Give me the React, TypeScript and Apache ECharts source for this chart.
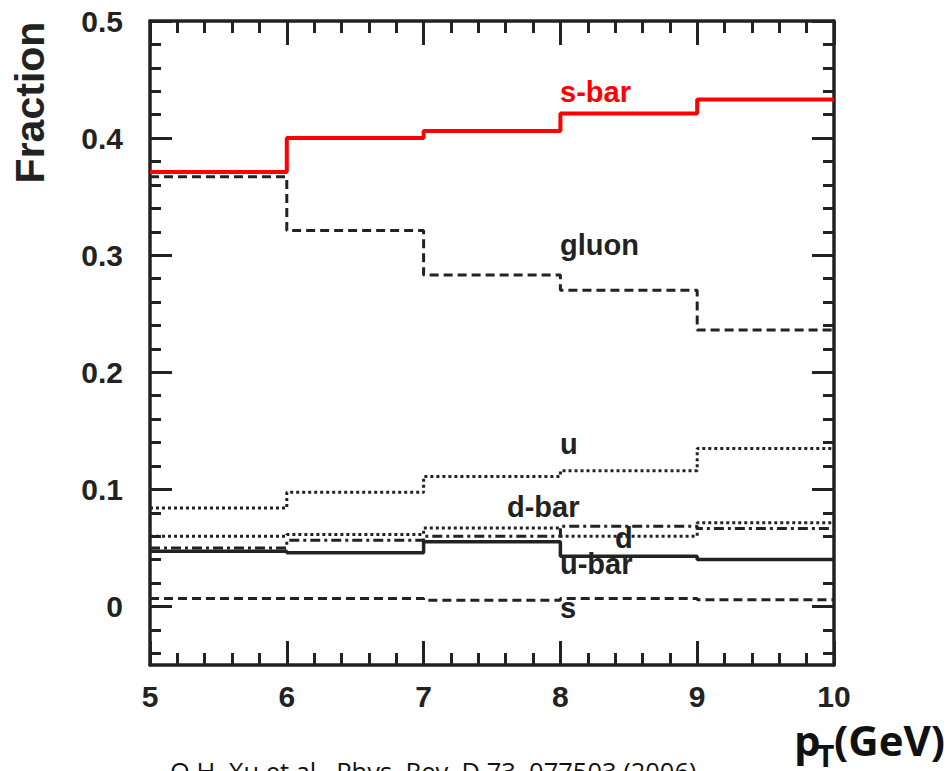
import React, { useEffect, useRef } from "react";
import * as echarts from "echarts";

// ---- data ----
const binEdges = [5, 6, 7, 8, 9, 10];
const sbar = [0.371, 0.4, 0.406, 0.421, 0.433];
const gluon = [0.367, 0.321, 0.283, 0.27, 0.236];
const uQuark = [0.084, 0.0975, 0.111, 0.116, 0.135];
const dbar = [0.05, 0.0566, 0.06, 0.0686, 0.0666];
const dQuark = [0.06, 0.0614, 0.067, 0.06, 0.0714];
const ubar = [0.0472, 0.0458, 0.0552, 0.0429, 0.0401];
const sQuark = [0.0068, 0.0068, 0.0054, 0.0068, 0.0057];

const yMajorTicks = [0, 0.1, 0.2, 0.3, 0.4, 0.5];
const yMinorTicks = [-0.04, -0.02, 0.02, 0.04, 0.06, 0.08, 0.12, 0.14, 0.16, 0.18, 0.22, 0.24, 0.26, 0.28, 0.32, 0.34, 0.36, 0.38, 0.42, 0.44, 0.46, 0.48];

const INK = "#222";

function stepData(vals: number[]) {
  return binEdges.map((x, i) => [x, vals[Math.min(i, vals.length - 1)]]);
}

export default function App() {
  const ref = useRef<HTMLDivElement>(null);
  useEffect(() => {
    if (!ref.current) return;
    const chart = echarts.init(ref.current, null, { renderer: "svg" });
    const yBase = {
      type: "value" as const,
      min: -0.05,
      max: 0.5,
      offset: 0,
      splitLine: { show: false },
    };
    const xBase = {
      type: "value" as const,
      min: 5,
      max: 10,
      interval: 1,
      splitLine: { show: false },
      axisLine: { show: true, onZero: false, lineStyle: { color: INK, width: 3.5 } },
      axisTick: { show: true, inside: true, length: 24, lineStyle: { color: INK, width: 3 } },
      minorTick: { show: true, splitNumber: 5, length: 12, lineStyle: { color: INK, width: 3 } },
    };
    const mk = (name: string, vals: number[], color: string, type: any, width: number) => ({
      name,
      type: "line" as const,
      step: "end" as const,
      data: stepData(vals),
      showSymbol: false,
      symbol: "none",
      lineStyle: { color, width, type },
      xAxisIndex: 0,
      yAxisIndex: 0,
    });
    const labelText = (text: string, x: number, y: number, color = INK) => ({
      type: "text" as const,
      x,
      y,
      style: {
        text,
        fill: color,
        font: "bold 29px 'Liberation Sans', Arial, sans-serif",
        textAlign: "left",
        textVerticalAlign: "middle",
      },
    });
    chart.setOption({
      animation: false,
      backgroundColor: "#fff",
      grid: { left: 150, right: 115, top: 21, bottom: 106, containLabel: false },
      xAxis: [
        {
          ...xBase,
          position: "bottom",
          axisLabel: {
            show: true,
            color: INK,
            fontSize: 30,
            fontWeight: "bold",
            fontFamily: "'Liberation Sans', Arial, sans-serif",
            margin: 16,
          },
        },
        { ...xBase, position: "top", axisLabel: { show: false } },
      ],
      yAxis: [
        {
          ...yBase,
          position: "left",
          axisLine: { show: true, onZero: false, lineStyle: { color: INK, width: 3.5 } },
          axisTick: { show: true, inside: true, length: 22, customValues: yMajorTicks, lineStyle: { color: INK, width: 3 } },
          axisLabel: {
            show: true,
            customValues: yMajorTicks,
            formatter: (v: number) => String(+v.toFixed(1)),
            color: INK,
            fontSize: 30,
            fontWeight: "bold",
            fontFamily: "'Liberation Sans', Arial, sans-serif",
            margin: 27,
          },
        },
        {
          ...yBase,
          position: "left",
          axisLine: { show: false },
          axisTick: { show: true, inside: true, length: 11, customValues: yMinorTicks, lineStyle: { color: INK, width: 3 } },
          axisLabel: { show: false },
        },
        {
          ...yBase,
          position: "right",
          axisLine: { show: true, onZero: false, lineStyle: { color: INK, width: 3.5 } },
          axisTick: { show: true, inside: true, length: 22, customValues: yMajorTicks, lineStyle: { color: INK, width: 3 } },
          axisLabel: { show: false },
        },
        {
          ...yBase,
          position: "right",
          axisLine: { show: false },
          axisTick: { show: true, inside: true, length: 11, customValues: yMinorTicks, lineStyle: { color: INK, width: 3 } },
          axisLabel: { show: false },
        },
      ],
      series: [
        mk("s-bar", sbar, "#ff0000", "solid", 4),
        mk("gluon", gluon, INK, [9, 5], 3),
        mk("u", uQuark, INK, [3, 3], 3),
        mk("d-bar", dbar, INK, [10, 4, 3, 4], 3),
        mk("d", dQuark, INK, [3, 3], 3),
        mk("u-bar", ubar, INK, "solid", 3.5),
        mk("s", sQuark, INK, [9, 5], 3),
      ],
      graphic: [
        labelText("s-bar", 560, 92, "#ff0000"),
        labelText("gluon", 560, 245),
        labelText("u", 560, 444),
        labelText("d-bar", 507, 507),
        labelText("d", 615, 538),
        labelText("u-bar", 560, 564),
        labelText("s", 560, 608),
        {
          type: "text",
          x: 30,
          y: 102.5,
          rotation: Math.PI / 2,
          style: {
            text: "Fraction",
            fill: INK,
            font: "bold 41px 'Liberation Sans', Arial, sans-serif",
            textAlign: "center",
            textVerticalAlign: "middle",
          },
        },
        {
          type: "text",
          x: 794,
          y: 739,
          style: { text: "p", fill: "#111", font: "bold 42px 'Open Sans', sans-serif", textAlign: "left", textVerticalAlign: "middle" },
        },
        {
          type: "text",
          x: 817,
          y: 755,
          style: { text: "T", fill: "#111", font: "bold 30px 'Open Sans', sans-serif", textAlign: "left", textVerticalAlign: "middle" },
        },
        {
          type: "text",
          x: 834,
          y: 739,
          style: { text: "(GeV)", fill: "#111", font: "bold 42px 'Open Sans', sans-serif", textAlign: "left", textVerticalAlign: "middle" },
        },
        {
          type: "text",
          x: 170,
          y: 771,
          style: { text: "Q.H. Xu et al., Phys. Rev. D 73, 077503 (2006)", fill: "#111", font: "25.5px 'Open Sans', sans-serif", textAlign: "left", textVerticalAlign: "middle" },
        },
      ],
    });
    return () => chart.dispose();
  }, []);
  return <div ref={ref} style={{ position: "absolute", left: 0, top: 0, width: 949, height: 771 }} />;
}
